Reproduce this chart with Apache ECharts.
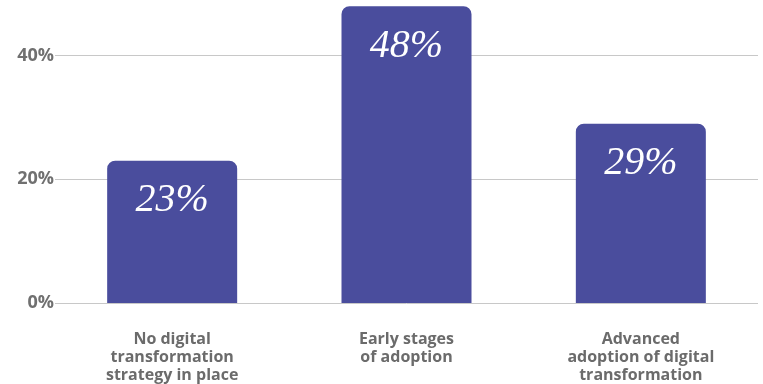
<!DOCTYPE html>
<html><head><meta charset="utf-8">
<script src="https://cdn.jsdelivr.net/npm/echarts@6/dist/echarts.min.js"></script>
<style>html,body{margin:0;padding:0;background:#fff}#c{width:763px;height:384px}</style>
</head><body><div id="c"></div>
<script>
const categories = ['No digital\ntransformation\nstrategy in place', 'Early stages\nof adoption', 'Advanced\nadoption of digital\ntransformation'];
const values = [23, 48, 29];
const yTicks = [0, 20, 40];

const chart = echarts.init(document.getElementById('c'));
chart.setOption({
  animation: false,
  grid: { left: 55, right: 5, top: 0, bottom: 77 },
  xAxis: {
    type: 'category', data: categories,
    axisLine: { show: false }, axisTick: { show: false },
    axisLabel: { margin: 27, color: '#6b6b6b', fontFamily: 'Open Sans', fontWeight: 'bold', fontSize: 16, lineHeight: 18 }
  },
  yAxis: {
    type: 'value', min: 0, max: 49, interval: 20,
    axisLine: { show: false }, axisTick: { show: false },
    splitLine: { showMaxLine: false, lineStyle: { color: '#c8c8c8', width: 1 } },
    axisLabel: { margin: 1, color: '#707070', fontFamily: 'Open Sans', fontWeight: 'bold', fontSize: 18,
      formatter: v => yTicks.includes(v) ? v + '%' : '' }
  },
  series: [{
    type: 'bar', data: values, barWidth: 130,
    itemStyle: { color: '#4a4d9d', borderRadius: [8, 8, 0, 0] },
    label: { show: true, position: 'insideTop', distance: 20, formatter: '{c}%', color: '#fff',
      fontFamily: 'Liberation Serif', fontStyle: 'italic', fontSize: 40 }
  }]
});
</script></body></html>
